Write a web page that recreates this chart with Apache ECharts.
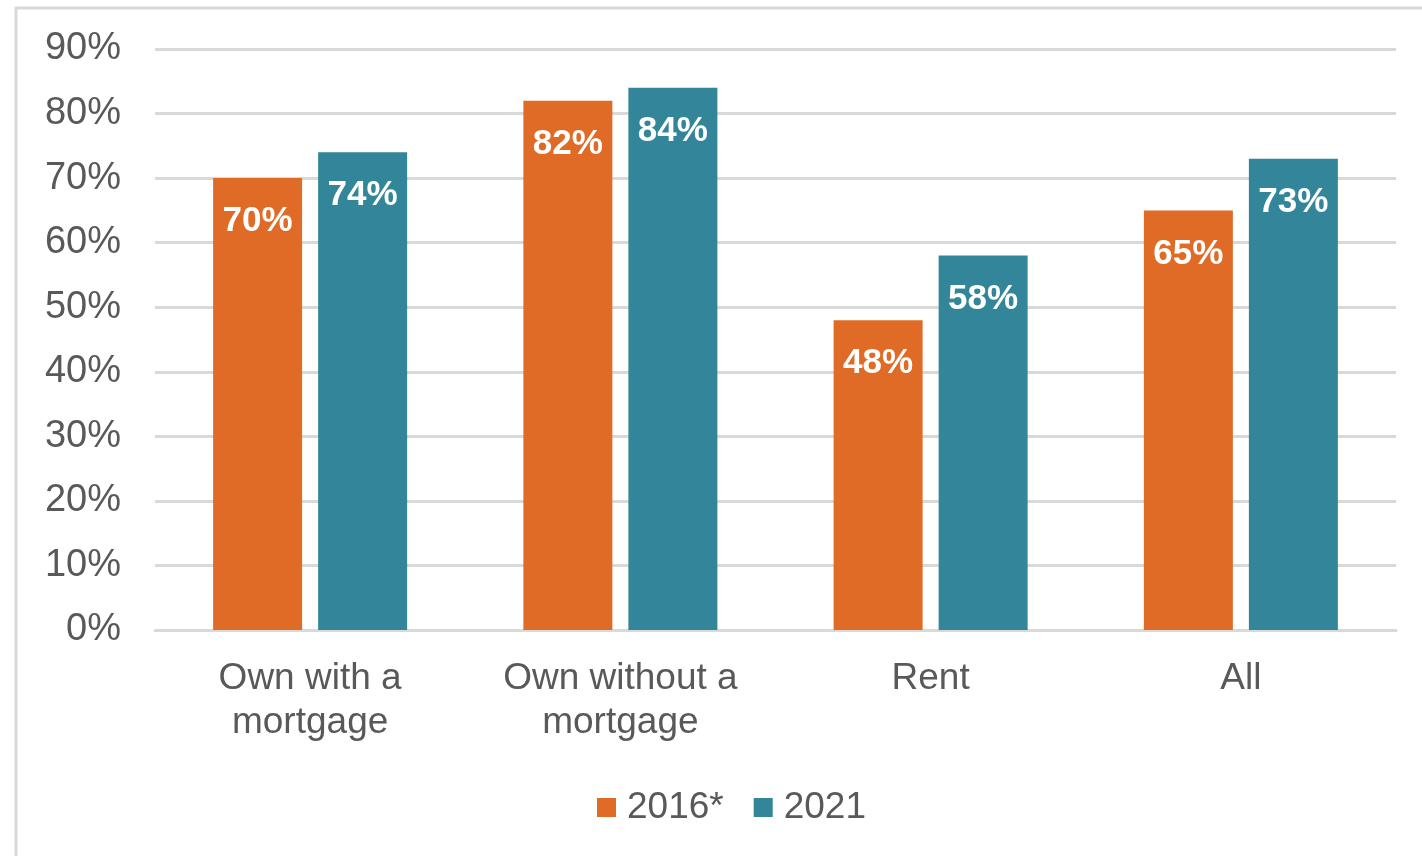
<!DOCTYPE html>
<html>
<head>
<meta charset="utf-8">
<script src="https://cdn.jsdelivr.net/npm/echarts@6/dist/echarts.min.js"></script>
<style>
  html, body { margin: 0; padding: 0; background: #fff; }
  #chart { width: 1422px; height: 856px; }
</style>
</head>
<body>
<div id="chart"></div>
<script>
const categories = ['Own with a\nmortgage', 'Own without a\nmortgage', 'Rent', 'All']
const seriesNames = ['2016*', '2021']
const values2016 = [70, 82, 48, 65]
const values2021 = [74, 84, 58, 73]

const chart = echarts.init(document.getElementById('chart'), null, { renderer: 'canvas' })
const font = '"Liberation Sans", Arial, sans-serif'

const barLabel = {
  show: true,
  position: 'insideTop',
  distance: 26,
  color: '#fff',
  fontFamily: font,
  fontWeight: 'bold',
  fontSize: 35,
  formatter: p => p.value + '%'
}

chart.setOption({
  animation: false,
  graphic: [{
    type: 'rect',
    shape: { x: 16, y: 8, width: 1440, height: 900 },
    style: { fill: 'none', stroke: '#d9d9d9', lineWidth: 3 },
    silent: true
  }],
  grid: { left: 155, right: 26, top: 49, bottom: 226, containLabel: false },
  legend: {
    left: 592,
    top: 784,
    itemWidth: 19,
    itemHeight: 19,
    itemGap: 30,
    icon: 'rect',
    textStyle: { fontFamily: font, fontSize: 37, color: '#595959', padding: [0, 0, 0, 6] },
    data: seriesNames
  },
  xAxis: {
    type: 'category',
    data: categories,
    axisLine: { lineStyle: { color: '#d9d9d9', width: 3 } },
    axisTick: { show: false },
    axisLabel: {
      margin: 27,
      color: '#595959',
      fontFamily: font,
      fontSize: 37,
      lineHeight: 44
    }
  },
  yAxis: {
    type: 'value',
    min: 0,
    max: 90,
    interval: 10,
    axisLine: { show: false },
    axisTick: { show: false },
    splitLine: { lineStyle: { color: '#d9d9d9', width: 3 } },
    axisLabel: {
      margin: 34,
      color: '#595959',
      fontFamily: font,
      fontSize: 38,
      formatter: '{value}%'
    }
  },
  series: [
    {
      name: seriesNames[0],
      type: 'bar',
      data: values2016,
      barWidth: 89,
      barGap: '18%',
      itemStyle: { color: '#e06b26' },
      label: barLabel
    },
    {
      name: seriesNames[1],
      type: 'bar',
      data: values2021,
      barWidth: 89,
      itemStyle: { color: '#33869a' },
      label: barLabel
    }
  ]
})
</script>
</body>
</html>
